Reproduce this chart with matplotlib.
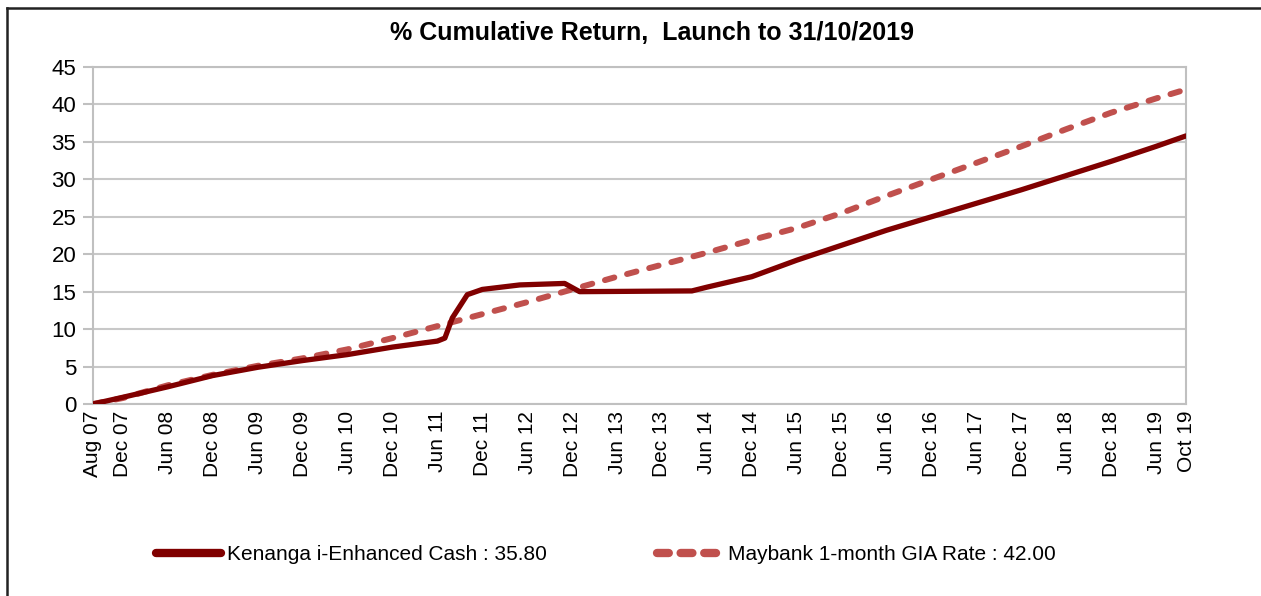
import matplotlib
matplotlib.use('Agg')
import matplotlib.pyplot as plt
from matplotlib.lines import Line2D
import datetime as dt

plt.rcParams['font.family'] = ['Liberation Sans', 'DejaVu Sans']
plt.rcParams['lines.scale_dashes'] = False

# Kenanga i-Enhanced Cash, % cumulative return
kenanga_dates = ['2007-08', '2007-12', '2008-06', '2008-12', '2009-06', '2009-12',
                 '2010-06', '2010-12', '2011-06', '2011-07', '2011-08', '2011-10',
                 '2011-12', '2012-05', '2012-11', '2013-01', '2014-04', '2014-06',
                 '2014-12', '2015-06', '2015-12', '2016-06', '2016-12', '2017-06',
                 '2017-12', '2018-06', '2018-12', '2019-06', '2019-10']
kenanga_vals = [0.0, 0.9, 2.3, 3.8, 4.9, 5.8,
                6.6, 7.6, 8.4, 8.8, 11.5, 14.6,
                15.3, 15.9, 16.1, 15.0, 15.1, 15.6,
                17.0, 19.2, 21.2, 23.2, 25.0, 26.8,
                28.6, 30.5, 32.4, 34.4, 35.8]

# Maybank 1-month GIA rate, % cumulative return
maybank_dates = ['2007-08', '2007-12', '2008-06', '2008-12', '2009-06', '2009-12',
                 '2010-06', '2010-12', '2011-06', '2011-12', '2012-06', '2012-12',
                 '2013-06', '2013-12', '2014-06', '2014-12', '2015-06', '2015-12',
                 '2016-06', '2016-12', '2017-06', '2017-12', '2018-06', '2018-12',
                 '2019-06', '2019-10']
maybank_vals = [0.0, 0.8, 2.5, 3.9, 5.1, 6.1,
                7.3, 8.8, 10.4, 12.0, 13.6, 15.3,
                17.0, 18.6, 20.2, 21.9, 23.5, 25.5,
                27.8, 30.0, 32.2, 34.4, 36.7, 38.9,
                40.8, 42.0]

tick_dates = ['2007-08', '2007-12'] + ['%d-%02d' % (y, m) for y in range(2008, 2020)
                                       for m in (6, 12)][:-1] + ['2019-10']


def month_index(s):
    y, m = map(int, s.split('-'))
    return (y - 2007) * 12 + m - 8


def month_label(s):
    y, m = map(int, s.split('-'))
    return dt.date(y, m, 1).strftime('%b %y')


fig = plt.figure(figsize=(12.61, 5.96), dpi=100)
ax = fig.add_axes([93 / 1261, 1 - 404 / 596, (1186 - 93) / 1261, (404 - 67) / 596])

red_dark = '#800000'
red_light = '#C0504D'

ax.plot([month_index(d) for d in maybank_dates], maybank_vals, color=red_light, lw=4.3,
        dashes=(7, 9.5), dash_capstyle='round', zorder=3)
ax.plot([month_index(d) for d in kenanga_dates], kenanga_vals, color=red_dark, lw=3.8,
        solid_capstyle='round', zorder=4)

ax.set_xlim(0, month_index('2019-10'))
ax.set_ylim(0, 45)
ax.set_yticks(range(0, 46, 5))
ax.set_xticks([month_index(d) for d in tick_dates])
ax.set_xticklabels([month_label(d) for d in tick_dates], rotation=90, fontsize=15)
ax.tick_params(axis='y', labelsize=16, length=7, width=1.5, color='#c0c0c0', pad=5)
ax.tick_params(axis='x', length=0, pad=5)
ax.grid(axis='y', color='#c8c8c8', lw=1.5)
ax.set_axisbelow(True)
for side in ['left', 'right', 'bottom', 'top']:
    ax.spines[side].set_color('#c0c0c0')
    ax.spines[side].set_linewidth(1.5)

fig.text(652 / 1261, 1 - 33 / 596, '% Cumulative Return,  Launch to 31/10/2019',
         ha='center', va='center', fontsize=18, fontweight='bold')

handles = [Line2D([], [], color=red_dark, lw=6, solid_capstyle='round'),
           Line2D([], [], color=red_light, lw=6, dashes=(8.5, 8.5), dash_capstyle='round')]
labels = ['Kenanga i-Enhanced Cash : 35.80', 'Maybank 1-month GIA Rate : 42.00']
fig.legend(handles, labels, loc='center', bbox_to_anchor=(606 / 1261, 1 - 555 / 596),
           ncol=2, frameon=False, fontsize=15, handlelength=3.1, handletextpad=0.3,
           columnspacing=5.3)

# outer frame of the page
fig.add_artist(Line2D([7 / 1261, 1.0], [1 - 8 / 596, 1 - 8 / 596], color='#222222', lw=1.8))
fig.add_artist(Line2D([7 / 1261, 7 / 1261], [0.0, 1 - 8 / 596], color='#222222', lw=1.8))

fig.savefig('out.png', dpi=100)
